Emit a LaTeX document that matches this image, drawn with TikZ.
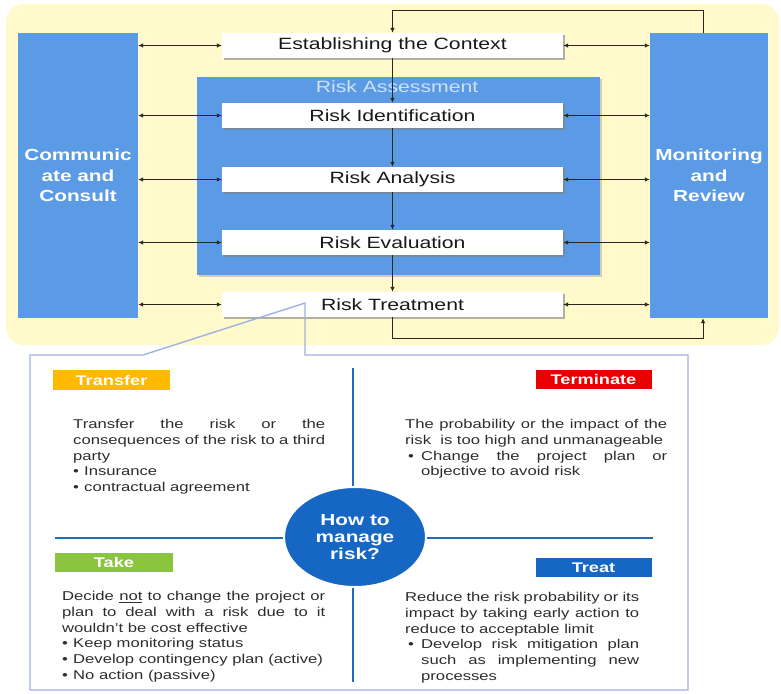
\documentclass[tikz,border=0pt]{standalone}
\usepackage{fontspec}
\setmainfont{Liberation Sans}[FakeStretch=1.3]
\usetikzlibrary{arrows.meta,shadows,shapes.geometric}
\hyphenpenalty=10000
\exhyphenpenalty=10000
\tolerance=10000
\definecolor{bgyellow}{RGB}{255,249,203}
\definecolor{colblue}{RGB}{91,155,229}
\definecolor{boxtext}{RGB}{25,25,25}
\definecolor{panelborder}{RGB}{160,178,228}
\definecolor{divblue}{RGB}{30,110,190}
\definecolor{circblue}{RGB}{22,102,196}
\definecolor{lblorange}{RGB}{255,185,0}
\definecolor{lblred}{RGB}{232,0,0}
\definecolor{lblgreen}{RGB}{139,197,63}
\definecolor{lbltreat}{RGB}{22,102,196}
\definecolor{bodytext}{RGB}{45,45,45}
\definecolor{assesstext}{RGB}{205,225,250}
\definecolor{linecol}{RGB}{40,40,30}
\newcommand\rbfont{\fontsize{16.3}{19}\selectfont}
\newcommand\rbbold{\fontsize{16}{20.5}\selectfont\bfseries}
\newcommand\rbcirc{\fontsize{16}{17}\selectfont\bfseries}
\newcommand\rbbody{\fontsize{12.8}{15.8}\selectfont}
\newcommand\rblabel{\fontsize{14}{16}\selectfont\bfseries}
\newcommand\rbbul{\makebox[11pt][l]{\textbullet}}
\newcommand\rbhang{\hangindent=16pt\hangafter=1\noindent\hspace*{3pt}\makebox[13pt][l]{\textbullet}}
\tikzset{
  col/.style={fill=colblue, minimum width=120, minimum height=285, inner sep=0pt,
    font=\rbbold, text=white, align=center},
  wbox/.style={fill=white, minimum width=341, minimum height=25, inner sep=0pt,
    font=\rbfont, text=boxtext,
    drop shadow={shadow xshift=1.5pt, shadow yshift=-2pt, opacity=0.6, fill=gray}},
  biarrow/.style={<->, draw=linecol, line width=0.9pt},
  onearrow/.style={->, draw=linecol, line width=0.9pt},
  lbl/.style={minimum width=116, minimum height=19.5, inner sep=0pt, font=\rblabel, text=white},
  bodytxt/.style={anchor=north west, inner sep=0pt, text width=#1, align=justify,
    font=\rbbody, text=bodytext},
  divider/.style={draw=divblue, line width=2.8pt},
}
\begin{document}
\begin{tikzpicture}[x=1pt,y=-1pt, >={Latex[length=5pt,width=4.5pt]}]
\useasboundingbox (0,0) rectangle (781,693);
\fill[white] (0,0) rectangle (781,693);
% yellow background
\fill[bgyellow, rounded corners=18pt] (6,4) rectangle (779,345);
% risk assessment block
\node[fill=colblue, minimum width=403, minimum height=198, inner sep=0pt,
  drop shadow={shadow xshift=1.5pt, shadow yshift=-2pt, opacity=0.35, fill=gray}] (ra) at (398.5,176) {};
\node[font=\rbfont, text=assesstext, inner sep=0pt] (ratitle) at (397,87) {Risk Assessment};
% columns
\node[col] (comm) at (78,175.5) {Communic\\ate and\\Consult};
\node[col, minimum width=118] (mon) at (709,175.5) {Monitoring\\and\\Review};
% feedback lines
\coordinate (topc) at (703,10);
\coordinate (botc) at (703,338);
% boxes
\node[wbox] (ctx) at (392.5,45.5) {Establishing the Context};
\node[wbox] (ident) at (392.5,115.5) {Risk Identification};
\node[wbox] (anal) at (392.5,179.5) {Risk Analysis};
\node[wbox] (eval) at (392.5,242.5) {Risk Evaluation};
\node[wbox] (treat) at (392.5,304.5) {Risk Treatment};
\draw[onearrow] (topc |- mon.north) -- (topc) -| (ctx.north);
\draw[onearrow] (treat.south) |- (botc) -- (botc |- mon.south);
\draw[onearrow] (ctx.south) -- (ident.north);
\draw[onearrow] (ident.south) -- (anal.north);
\draw[onearrow] (anal.south) -- (eval.north);
\draw[onearrow] (eval.south) -- (treat.north);
\foreach \b in {ctx,ident,anal,eval,treat}{
  \draw[biarrow] (comm.east |- \b.west) -- (\b.west);
  \draw[biarrow] (mon.west |- \b.east) -- (\b.east);
}
% lower panel
\fill[white] (30,355) rectangle (688,690);
\draw[divider] (353,368) -- (353,682);
\draw[divider] (55,538) -- (653,538);
\node[ellipse, fill=circblue, draw=white, line width=2pt, minimum width=142, minimum height=100, inner sep=0pt,
  font=\rbcirc, text=white, align=center] (how) at (355,537) {How to\\manage\\risk?};
\node[lbl, fill=lblorange, minimum width=117, minimum height=20] (ltransfer) at (111.5,380) {Transfer};
\node[lbl, fill=lblred] (lterm) at (593.5,379.5) {Terminate};
\node[lbl, fill=lblgreen, minimum width=118] (ltake) at (114,562.5) {Take};
\node[lbl, fill=lbltreat] (ltreat) at (593.5,567.5) {Treat};
\node[bodytxt=252pt] (ttransfer) at (73,419) {Transfer the risk or the\linebreak consequences of the risk to a third\linebreak party\par
\rbbul Insurance\par
\rbbul contractual agreement\par};
\node[bodytxt=262pt] (tterm) at (405,419) {The probability or the impact of the\linebreak risk\ \ is too high and unmanageable\par
\rbhang Change the project plan or\linebreak objective to avoid risk\par};
\node[bodytxt=263pt] (ttake) at (62,591) {Decide \underline{not} to change the project or\linebreak plan to deal with a risk due to it\linebreak wouldn't be cost effective\par
\rbbul Keep monitoring status\par
\rbbul Develop contingency plan (active)\par
\rbbul No action (passive)\par};
\node[bodytxt=234pt] (ttreat) at (405,592) {Reduce the risk probability or its\linebreak impact by taking early action to\linebreak reduce to acceptable limit\par
\rbhang Develop risk mitigation plan\linebreak such as implementing new\linebreak processes\par};
% panel border with callout
\draw[panelborder, line width=1.4pt, line join=miter]
  (143,355) -- (30,355) -- (30,690) -- (688,690) -- (688,355) -- (305,355) -- (305,303) -- cycle;
\end{tikzpicture}
\end{document}
